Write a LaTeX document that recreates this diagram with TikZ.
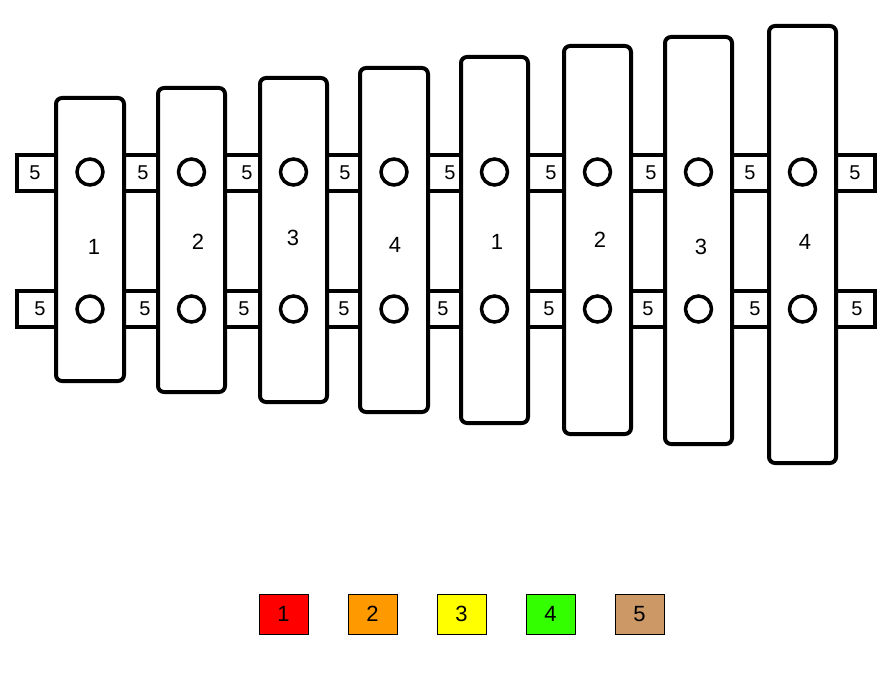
\documentclass[tikz,border=0pt]{standalone}
\usepackage{fontspec}
\setmainfont{Liberation Sans}
\begin{document}
\begin{tikzpicture}[x=1pt,y=-1pt,
  rail/.style={draw=black,line width=4pt,fill=white},
  bar/.style={draw=black,line width=4pt,fill=white,rounded corners=6pt},
  hole/.style={circle,draw=black,line width=3.5pt,fill=white,minimum size=26pt,inner sep=0pt},
  num/.style={font=\fontsize{22}{22}\selectfont},
  lbl/.style={font=\fontsize{20}{20}\selectfont,fill=white,inner sep=1pt},
  key/.style={draw=black,line width=0.8pt,minimum width=49pt,minimum height=40pt,font=\fontsize{22}{22}\selectfont}]
\useasboundingbox (0,0) rectangle (893,674);
\fill[white] (0,0) rectangle (893,674);
\draw[rail] (17,155) rectangle (875,191);
\draw[rail] (17,291) rectangle (875,327);
\foreach \x [count=\i] in {35,143,247,345,450,551,651,750,855}
  \node[lbl] (t\i) at (\x,173) {5};
\foreach \x [count=\i] in {40,145,244,344,443,549,648,755,857}
  \node[lbl] (b\i) at (\x,309) {5};
\foreach \l/\r/\t/\b/\n/\lx/\ly [count=\i] in
 {56/124/98/381/1/94/247, 158/225/88/392/2/198/242, 260/327/78/402/3/293/238,
  360/428/68/412/4/395/245, 461/528/57/423/1/497/242, 564/631/46/434/2/600/240,
  665/732/37/444/3/701/247, 769/836/26/463/4/805/242}{
  \draw[bar] (\l,\t) rectangle (\r,\b);
  \node[hole] (h\i a) at ({(\l+\r)/2},172) {};
  \node[hole] (h\i b) at ({(\l+\r)/2},309) {};
  \node[num] (n\i) at (\lx,\ly) {\n};
}
\definecolor{c1}{RGB}{255,0,0}
\definecolor{c2}{RGB}{255,153,0}
\definecolor{c3}{RGB}{255,255,0}
\definecolor{c4}{RGB}{51,255,0}
\definecolor{c5}{RGB}{204,153,102}
\foreach \x [count=\i] in {283.5,372.5,461.5,550.5,639.5}
  \node[key,fill=c\i] (k\i) at (\x,614) {\i};
\end{tikzpicture}
\end{document}
